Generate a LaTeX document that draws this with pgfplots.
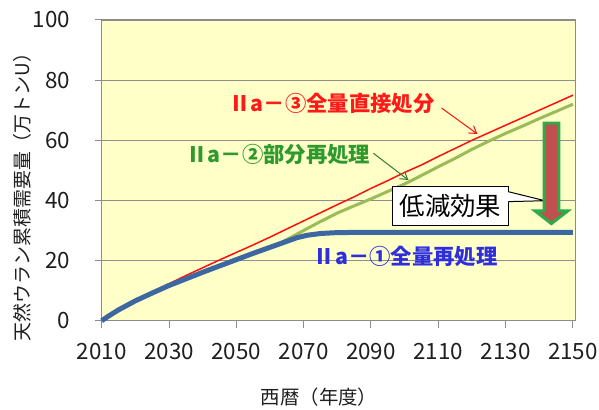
\documentclass[border=0pt]{standalone}
\usepackage{pgfplots}
\pgfplotsset{compat=1.18}
\usepackage{fontspec}
\setmainfont{Noto Sans CJK JP}
\usetikzlibrary{arrows.meta}
\definecolor{bgyellow}{HTML}{FFFFC8}
\definecolor{axgray}{HTML}{8C8C8C}
\definecolor{gridgray}{HTML}{8F8F8F}
\definecolor{lred}{HTML}{FF1010}
\definecolor{lgreen}{HTML}{9BBB59}
\definecolor{lblue}{HTML}{3C67A0}
\definecolor{tred}{HTML}{FF1A1A}
\definecolor{tgreen}{HTML}{2E9A2E}
\definecolor{tblue}{HTML}{2E2EE0}
\definecolor{agreen}{HTML}{2D7F2D}
\definecolor{bigred}{HTML}{C0504D}
\definecolor{biggreen}{HTML}{2DAA4A}
\begin{document}
\begin{tikzpicture}
\begin{axis}[
  at={(0,0)}, anchor=south west,
  scale only axis, width=473.6bp, height=300.7bp,
  xmin=2010, xmax=2150.7, ymin=0, ymax=100,
  xtick={2010,2030,...,2150}, ytick={0,20,...,100},
  axis background/.style={fill=bgyellow},
  ymajorgrids, grid style={draw=gridgray, line width=0.9bp},
  axis line style={draw=axgray, line width=1.3bp},
  tick style={draw=axgray, line width=1bp},
  tick align=outside, major tick length=7bp,
  xtick pos=bottom, ytick pos=left,
  /pgf/number format/assume math mode=true,
  tick label style={font=\fontsize{22.5}{22.5}\selectfont, text=black!88},
  xticklabel style={/pgf/number format/1000 sep={}, yshift=-12bp},
  yticklabel style={xshift=-21bp},
  clip=false,
]
\addplot[lred, line width=1.5bp] coordinates {
(2010,0) (2012,1.5) (2015,3.6) (2020,6.6) (2023,8.3) (2025,9.6) (2030,12.3) (2035,15.0) (2040,17.6) (2045,20.2) (2050,22.7) (2055,25.2) (2060,27.8) (2065,30.5) (2070,33.2) (2075,35.9) (2080,38.6) (2085,41.2) (2090,44.0) (2095,46.6) (2100,49.3) (2105,51.8) (2110,54.6) (2115,57.3) (2120,60.0) (2125,62.5) (2130,65.0) (2135,67.5) (2140,70.0) (2145,72.5) (2150,75.0)};
\addplot[lgreen, line width=3bp] coordinates {
(2010,0) (2012,1.5) (2015,3.6) (2020,6.6) (2025,9.2) (2030,11.7) (2035,13.9) (2040,16.1) (2045,18.2) (2050,20.3) (2055,22.4) (2060,24.4) (2062,25.2) (2065,27.0) (2070,30.0) (2075,33.0) (2080,35.8) (2085,38.2) (2090,40.5) (2095,43.0) (2100,45.5) (2105,48.3) (2110,51.2) (2115,54.0) (2120,57.0) (2125,59.7) (2130,62.3) (2135,64.7) (2140,67.2) (2145,69.6) (2150,72.0)};
\addplot[lblue, line width=5bp] coordinates {
(2010,0) (2012,1.5) (2015,3.6) (2020,6.6) (2025,9.2) (2030,11.7) (2035,13.9) (2040,16.1) (2045,18.2) (2050,20.3) (2055,22.4) (2060,24.4) (2065,26.4) (2068,27.6) (2071,28.4) (2075,29.0) (2080,29.3) (2090,29.4) (2150,29.4)};

\node[text=tred, font=\bfseries\fontsize{21.4}{21.4}\selectfont] at (axis cs:2078.4,72.1) {Ⅱa－③全量直接処分};
\node[text=tgreen, font=\bfseries\fontsize{21.4}{21.4}\selectfont] at (axis cs:2062.5,55.4) {Ⅱa－②部分再処理};
\node[text=tblue, font=\bfseries\fontsize{21.4}{21.4}\selectfont] at (axis cs:2100.3,21.3) {Ⅱa－①全量再処理};
\draw[lred, line width=1bp, -{Straight Barb[length=7bp,width=9bp]}] (axis cs:2111.0,70.7) -- (axis cs:2121.6,62.1);
\draw[agreen, line width=1bp, -{Straight Barb[length=7bp,width=9bp]}] (axis cs:2090.7,55.7) -- (axis cs:2101.1,46.8);

\node[draw=black, fill=white, line width=1bp, minimum width=115.6bp, minimum height=39bp, inner sep=0pt, font=\fontsize{25.5}{25.5}\selectfont] at (axis cs:2113.6,38.3) {低減効果};
\fill[white] (axis cs:2130.5,42.9) -- (axis cs:2141.7,39.9) -- (axis cs:2130.5,39.6) -- cycle;
\draw[black, line width=1bp] (axis cs:2130.8,42.9) -- (axis cs:2141.7,39.9) -- (axis cs:2130.8,39.6);

\draw[fill=bigred, draw=biggreen, line width=3bp, line join=miter]
  ([xshift=-7.35bp]axis cs:2143.6,65.7) -- ([xshift=7.35bp]axis cs:2143.6,65.7)
  -- ([xshift=7.35bp]axis cs:2143.6,36.5) -- ([xshift=16.3bp]axis cs:2143.6,36.5)
  -- (axis cs:2143.6,32.3) -- ([xshift=-16.3bp]axis cs:2143.6,36.5)
  -- ([xshift=-7.35bp]axis cs:2143.6,36.5) -- cycle;
\end{axis}
\node[rotate=90, font=\fontsize{19}{19}\selectfont, text=black!88] at (-79.2bp,128.2bp) {天然ウラン累積需要量（万トンU）};
\node[font=\fontsize{19.5}{19.5}\selectfont, text=black!88] at (217.3bp,-76.5bp) {西暦（年度）};
\pgfresetboundingbox
\useasboundingbox (-101.7bp,-89.3bp) rectangle (497.3bp,320.7bp);
\end{tikzpicture}
\end{document}
